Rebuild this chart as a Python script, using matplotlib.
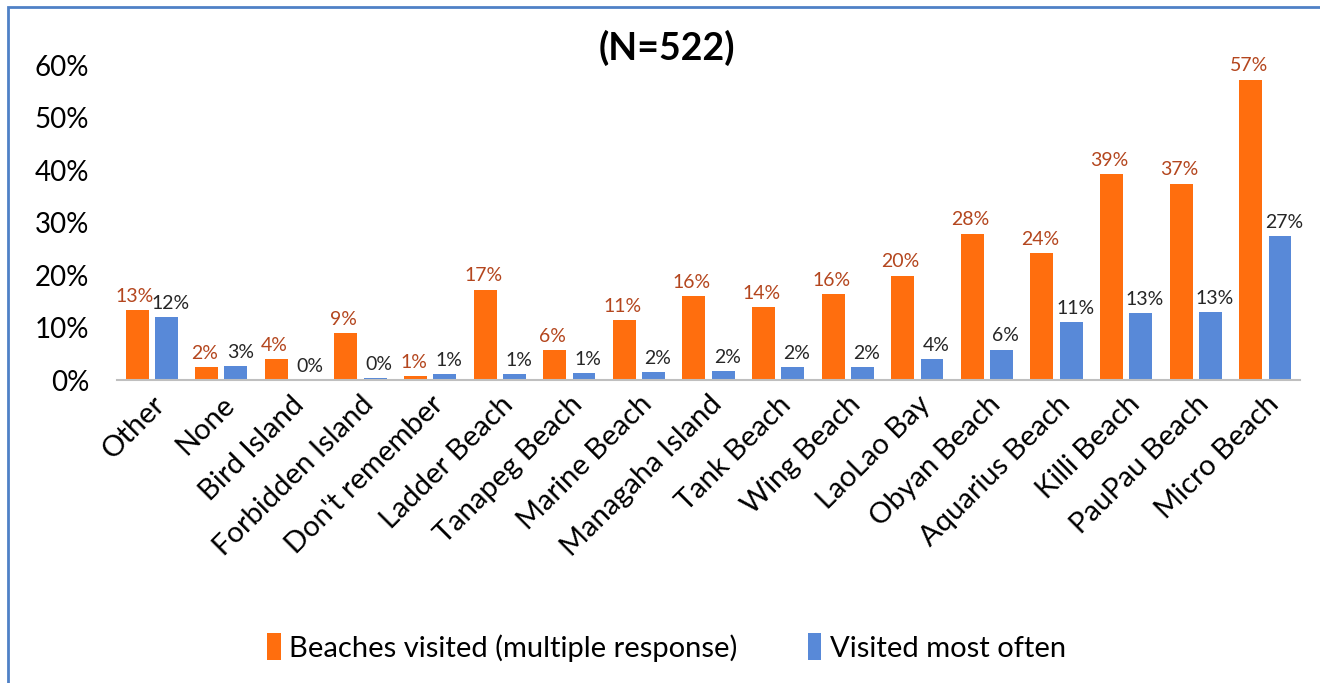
import numpy as np
import matplotlib.pyplot as plt
from matplotlib.patches import Rectangle

plt.rcParams['font.family'] = ['Lato', 'DejaVu Sans']

beaches = ["Other", "None", "Bird Island", "Forbidden Island", "Don't remember",
           "Ladder Beach", "Tanapeg Beach", "Marine Beach", "Managaha Island",
           "Tank Beach", "Wing Beach", "LaoLao Bay", "Obyan Beach",
           "Aquarius Beach", "Killi Beach", "PauPau Beach", "Micro Beach"]
visited = [13.3, 2.5, 4.0, 8.9, 0.8, 17.2, 5.7, 11.4, 16.0, 13.9, 16.4,
           19.9, 27.9, 24.2, 39.2, 37.4, 57.2]
mostOften = [12.0, 2.7, 0.0, 0.3, 1.1, 1.1, 1.3, 1.5, 1.7, 2.5, 2.5,
             4.0, 5.8, 11.0, 12.8, 13.0, 27.4]

orange = '#FF6E0E'
blue = '#5889D8'

fig = plt.figure(figsize=(13.2, 6.83), dpi=100)
ax = fig.add_axes([0.0886, 0.4436, 0.8964, 0.4612])

x = np.arange(len(beaches))
w = 0.33
b1 = ax.bar(x - 0.21, visited, w, color=orange, label='Beaches visited (multiple response)')
b2 = ax.bar(x + 0.21, mostOften, w, color=blue, label='Visited most often')

# labels pushed slightly apart so neighbouring ones don't collide
for i in range(len(beaches)):
    ax.text(x[i] - 0.24, visited[i] + 1.0, '%d%%' % round(visited[i]),
            ha='center', va='bottom', fontsize=14, color='#B4461E')
    ax.text(x[i] + 0.27, mostOften[i] + 1.0, '%d%%' % round(mostOften[i]),
            ha='center', va='bottom', fontsize=14, color='#262626')

ax.set_xlim(-0.5, len(beaches) - 0.5)
ax.set_ylim(0, 60)
ax.set_yticks(range(0, 61, 10))
ax.set_yticklabels(['%d%%' % v for v in range(0, 61, 10)], fontsize=20)
ax.set_xticks(x)
ax.set_xticklabels(beaches, rotation=45, ha='right', rotation_mode='anchor', fontsize=21)
ax.tick_params(length=0)
ax.tick_params(axis='y', pad=20)
ax.tick_params(axis='x', pad=8)
for s in ['top', 'right', 'left']:
    ax.spines[s].set_visible(False)
ax.spines['bottom'].set_color('#BFBFBF')
ax.spines['bottom'].set_linewidth(1.5)

fig.text(0.505, 0.93, '(N=522)', ha='center', va='center', fontsize=27, fontweight='bold')

fig.legend(handles=[b1, b2], loc='center', bbox_to_anchor=(0.505, 0.052), ncol=2,
           frameon=False, fontsize=21, handlelength=0.45, handleheight=1.0,
           handletextpad=0.3, columnspacing=2.4)

fig.patches.append(Rectangle((0.006, -0.1), 1.2, 1.09, transform=fig.transFigure,
                             fill=False, edgecolor='#4F81C6', linewidth=2))

fig.savefig('out.png', dpi=100)
